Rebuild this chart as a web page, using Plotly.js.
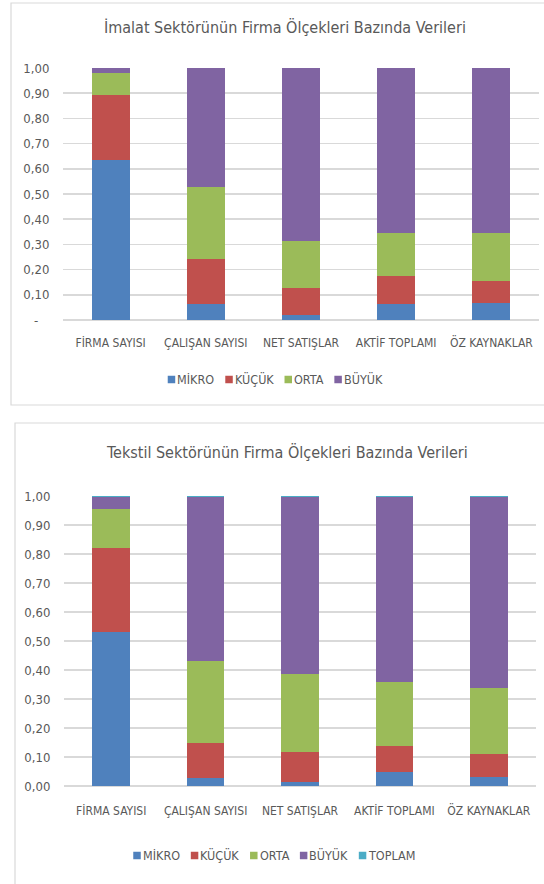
<!DOCTYPE html>
<html>
<head>
<meta charset="utf-8">
<script src="https://cdn.plot.ly/plotly-3.0.1.min.js"></script>
<style>
  html, body { margin: 0; padding: 0; background: #ffffff; }
  #chart { width: 544px; height: 884px; }
</style>
</head>
<body>
<div id="chart"></div>
<script>
// Categories shared by both charts
const categories = ['FİRMA SAYISI', 'ÇALIŞAN SAYISI', 'NET SATIŞLAR', 'AKTİF TOPLAMI', 'ÖZ KAYNAKLAR'];

// Manufacturing sector shares by firm size
const imalatMikro = [0.635, 0.063, 0.020, 0.063, 0.067];
const imalatKucuk = [0.258, 0.180, 0.107, 0.110, 0.089];
const imalatOrta  = [0.086, 0.285, 0.186, 0.173, 0.190];
const imalatBuyuk = [0.021, 0.472, 0.687, 0.654, 0.654];

// Textile sector shares by firm size
const tekstilMikro  = [0.532, 0.029, 0.015, 0.049, 0.031];
const tekstilKucuk  = [0.288, 0.119, 0.102, 0.090, 0.079];
const tekstilOrta   = [0.134, 0.284, 0.269, 0.220, 0.227];
const tekstilBuyuk  = [0.042, 0.564, 0.610, 0.637, 0.659];
const tekstilToplam = [0.004, 0.004, 0.004, 0.004, 0.004];

// Series names and y tick labels (accounting-style dash for zero)
const seriesNames = ['MİKRO', 'KÜÇÜK', 'ORTA', 'BÜYÜK', 'TOPLAM'];
const tickValues = [0, 0.1, 0.2, 0.3, 0.4, 0.5, 0.6, 0.7, 0.8, 0.9, 1.0];
const imalatTickText  = ['-\u00a0\u00a0\u00a0', '0,10', '0,20', '0,30', '0,40', '0,50', '0,60', '0,70', '0,80', '0,90', '1,00'];
const tekstilTickText = ['0,00', '0,10', '0,20', '0,30', '0,40', '0,50', '0,60', '0,70', '0,80', '0,90', '1,00'];

const titles = ['İmalat Sektörünün Firma Ölçekleri Bazında Verileri',
                'Tekstil Sektörünün Firma Ölçekleri Bazında Verileri'];

const colors = ['#4F81BD', '#C0504D', '#9BBB59', '#8064A2', '#4BACC6'];
const FONT = '"DejaVu Sans Condensed", "DejaVu Sans", sans-serif';
const TEXT = '#595959';
const GRID = '#d9d9d9';
const W = 544, H = 884;

const px = x => x / W;
const py = y => 1 - y / H;

function barTrace(values, idx, xa, ya, width) {
  return {
    type: 'bar', x: categories, y: values, name: seriesNames[idx],
    xaxis: xa, yaxis: ya, width: width, showlegend: false,
    marker: { color: colors[idx], line: { width: 0 } },
    hoverinfo: 'name+y'
  };
}

const data = [
  barTrace(imalatMikro, 0, 'x', 'y', 0.4),
  barTrace(imalatKucuk, 1, 'x', 'y', 0.4),
  barTrace(imalatOrta, 2, 'x', 'y', 0.4),
  barTrace(imalatBuyuk, 3, 'x', 'y', 0.4),
  barTrace(tekstilMikro, 0, 'x2', 'y2', 0.4),
  barTrace(tekstilKucuk, 1, 'x2', 'y2', 0.4),
  barTrace(tekstilOrta, 2, 'x2', 'y2', 0.4),
  barTrace(tekstilBuyuk, 3, 'x2', 'y2', 0.4),
  barTrace(tekstilToplam, 4, 'x2', 'y2', 0.4)
];

function xAxis(domain, anchor, standoff) {
  return {
    domain: domain, anchor: anchor, type: 'category', tickangle: 0,
    showgrid: false, zeroline: false, showline: false, ticks: '',
    ticklabelstandoff: standoff,
    tickfont: { family: FONT, size: 12, color: TEXT }, ticklen: 0
  };
}
function yAxis(domain, anchor, tickText) {
  return {
    domain: domain, anchor: anchor, range: [0, 1.0],
    tickvals: tickValues, ticktext: tickText,
    showgrid: true, gridcolor: GRID, gridwidth: 1.5,
    zeroline: true, zerolinecolor: GRID, zerolinewidth: 1.5,
    showline: false,
    // invisible ticks keep the labels clear of the plot edge
    ticks: 'outside', ticklen: 10, tickcolor: 'rgba(0,0,0,0)',
    tickfont: { family: FONT, size: 13, color: TEXT }
  };
}

// Chart frames
const shapes = [
  { type: 'rect', xref: 'paper', yref: 'paper', x0: px(11), x1: px(560), y0: py(405), y1: py(3),
    line: { color: GRID, width: 1.2 }, fillcolor: 'rgba(0,0,0,0)', layer: 'below' },
  { type: 'rect', xref: 'paper', yref: 'paper', x0: px(15), x1: px(560), y0: py(900), y1: py(423),
    line: { color: GRID, width: 1.2 }, fillcolor: 'rgba(0,0,0,0)', layer: 'below' }
];

const annotations = [
  { xref: 'paper', yref: 'paper', x: px(285), y: py(27), text: titles[0], showarrow: false,
    xanchor: 'center', yanchor: 'middle', font: { family: FONT, size: 16, color: TEXT } },
  { xref: 'paper', yref: 'paper', x: px(287), y: py(453), text: titles[1], showarrow: false,
    xanchor: 'center', yanchor: 'middle', font: { family: FONT, size: 16, color: TEXT } }
];

// Compact legend rows: colored square followed by its label
const measure = document.createElement('canvas').getContext('2d');
const LEG_SIZE = 12.5;
measure.font = LEG_SIZE + 'px ' + FONT;
function legendRow(count, centerX, centerY) {
  const sq = 7.5, gapText = 2, gapItem = 11;
  const widths = seriesNames.slice(0, count).map(n => measure.measureText(n).width);
  const total = widths.reduce((a, b) => a + b, 0) + count * (sq + gapText) + (count - 1) * gapItem;
  let x = centerX - total / 2;
  for (let i = 0; i < count; i++) {
    shapes.push({ type: 'rect', xref: 'paper', yref: 'paper',
      x0: px(x), x1: px(x + sq), y0: py(centerY + sq / 2 + 0.5), y1: py(centerY - sq / 2 + 0.5),
      line: { width: 0 }, fillcolor: colors[i] });
    x += sq + gapText;
    annotations.push({ xref: 'paper', yref: 'paper', x: px(x), y: py(centerY), text: seriesNames[i],
      showarrow: false, xanchor: 'left', yanchor: 'middle', borderpad: 0, xshift: -1,
      font: { family: FONT, size: LEG_SIZE, color: TEXT } });
    x += widths[i] + gapItem;
  }
}
legendRow(4, 275, 379);
legendRow(5, 274, 855);

const layout = {
  width: W, height: H,
  margin: { l: 0, r: 0, t: 0, b: 0 },
  paper_bgcolor: '#ffffff', plot_bgcolor: '#ffffff',
  barmode: 'stack', showlegend: false,
  xaxis: xAxis([px(63), px(539)], 'y', 14),
  yaxis: yAxis([py(320), py(68)], 'x', imalatTickText),
  xaxis2: xAxis([px(64), px(536)], 'y2', 16),
  yaxis2: yAxis([py(786), py(496)], 'x2', tekstilTickText),
  shapes: shapes,
  annotations: annotations
};

Plotly.newPlot('chart', data, layout, { displayModeBar: false, staticPlot: true });
</script>
</body>
</html>
